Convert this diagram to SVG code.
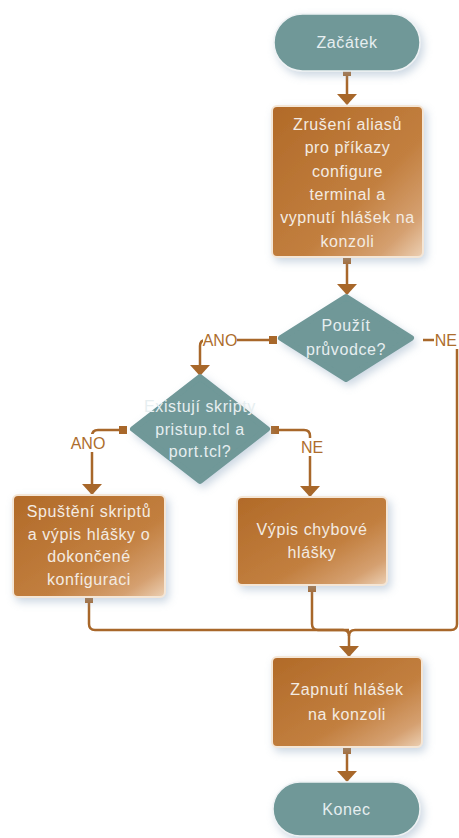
<svg xmlns="http://www.w3.org/2000/svg" width="459" height="838" viewBox="0 0 459 838">
  <defs>
    <linearGradient id="boxFill" x1="0" y1="0" x2="1" y2="1">
      <stop offset="0" stop-color="#b16a28"/>
      <stop offset="0.6" stop-color="#c27f3f"/>
      <stop offset="0.85" stop-color="#d5a070"/>
      <stop offset="1" stop-color="#ecd0b4"/>
    </linearGradient>
    <filter id="shadow" x="-20%" y="-20%" width="150%" height="150%">
      <feDropShadow dx="3" dy="4" stdDeviation="4" flood-color="#8ea6c0" flood-opacity="0.45"/>
    </filter>
    <!-- arrowhead drawn along +x so orient="auto" turns it with the line -->
    <marker id="arrow" viewBox="0 0 11 20" refX="10" refY="10" markerWidth="11" markerHeight="20" markerUnits="userSpaceOnUse" orient="auto">
      <path d="M0 0 L11 10 L0 20 Z" fill="#a8672a"/>
    </marker>
    <marker id="dot" viewBox="0 0 10 10" refX="5" refY="5" markerWidth="8" markerHeight="8" markerUnits="userSpaceOnUse">
      <rect x="0" y="0" width="10" height="10" fill="#a8672a"/>
    </marker>
  </defs>
  <style>
    .term { fill: #6f9898; stroke: #eef2f4; stroke-width: 1.5; filter: url(#shadow); }
    .dec { fill: #6f9898; stroke: #6f9898; stroke-width: 6; stroke-linejoin: round; filter: url(#shadow); }
    .proc { fill: url(#boxFill); stroke: #f4e6d6; stroke-width: 2; filter: url(#shadow); }
    .lbl { font-family: "Liberation Sans", Arial, sans-serif; font-size: 16px; letter-spacing: 0.6px; fill: #f3ebe2; text-anchor: middle; }
    .dlbl { font-family: "Liberation Sans", Arial, sans-serif; font-size: 16px; letter-spacing: 0.6px; fill: #e6eef0; text-anchor: middle; }
    .edge { fill: none; stroke: #a8672a; stroke-width: 2.5; }
    .elbl { font-family: "Liberation Sans", Arial, sans-serif; font-size: 16px; fill: #ad6d2d; text-anchor: middle; }
    .elbg { fill: #ffffff; }
  </style>

  <rect width="459" height="838" fill="#ffffff"/>

  <!-- connectors -->
  <g id="connectors">
    <path class="edge" d="M347 72 V104" marker-start="url(#dot)" marker-end="url(#arrow)"/>
    <path class="edge" d="M347 260 V294" marker-start="url(#dot)" marker-end="url(#arrow)"/>
    <path class="edge" d="M273 340 H206 Q200 340 200 346 V375" marker-start="url(#dot)" marker-end="url(#arrow)"/>
    <path class="edge" d="M423 340 H451 Q457 340 457 346 V624 Q457 630 451 630 H355 Q349 630 349 636"/>
    <path class="edge" d="M123 430 H98 Q92 430 92 436 V494" marker-start="url(#dot)" marker-end="url(#arrow)"/>
    <path class="edge" d="M275 430 H304 Q310 430 310 436 V496" marker-start="url(#dot)" marker-end="url(#arrow)"/>
    <path class="edge" d="M89 599 V624 Q89 630 95 630 H343 Q349 630 349 636 V656" marker-start="url(#dot)" marker-end="url(#arrow)"/>
    <path class="edge" d="M312 588 V624 Q312 630 318 630 H349" marker-start="url(#dot)"/>
    <path class="edge" d="M347 750 V781" marker-start="url(#dot)" marker-end="url(#arrow)"/>
    <rect class="elbg" x="203" y="331" width="34" height="18"/>
    <text class="elbl" x="220" y="346">ANO</text>
    <rect class="elbg" x="434" y="331" width="25" height="18"/>
    <text class="elbl" x="457" y="346" style="text-anchor:end">NE</text>
    <rect class="elbg" x="71" y="434" width="35" height="18"/>
    <text class="elbl" x="88" y="449">ANO</text>
    <rect class="elbg" x="300" y="438" width="24" height="18"/>
    <text class="elbl" x="312" y="453">NE</text>
  </g>

  <g id="start">
    <rect class="term" x="274" y="14" width="146" height="57" rx="28.5"/>
    <text class="dlbl" x="347" y="48">Začátek</text>
  </g>

  <g id="disable-aliases">
    <rect class="proc" x="272" y="106" width="151" height="151" rx="5"/>
    <text class="lbl" x="347.5" y="130">Zrušení aliasů</text>
    <text class="lbl" x="347.5" y="153">pro příkazy</text>
    <text class="lbl" x="347.5" y="177">configure</text>
    <text class="lbl" x="347.5" y="200">terminal a</text>
    <text class="lbl" x="347.5" y="223">vypnutí hlášek na</text>
    <text class="lbl" x="347.5" y="247">konzoli</text>
  </g>

  <g id="use-wizard">
    <polygon class="dec" points="346,297 411,338 346,379 281,338"/>
    <text class="dlbl" x="346" y="331">Použít</text>
    <text class="dlbl" x="346" y="355">průvodce?</text>
  </g>

  <g id="scripts-exist">
    <polygon class="dec" points="200,377 267,429 200,481 133,429"/>
    <text class="dlbl" x="200" y="412">Existují skripty</text>
    <text class="dlbl" x="200" y="435">pristup.tcl a</text>
    <text class="dlbl" x="200" y="457">port.tcl?</text>
  </g>

  <g id="run-scripts">
    <rect class="proc" x="13" y="495" width="152" height="102" rx="5"/>
    <text class="lbl" x="89" y="517">Spuštění skriptů</text>
    <text class="lbl" x="89" y="540">a výpis hlášky o</text>
    <text class="lbl" x="89" y="562">dokončené</text>
    <text class="lbl" x="89" y="585">konfiguraci</text>
  </g>

  <g id="error-message">
    <rect class="proc" x="237" y="497" width="150" height="88" rx="5"/>
    <text class="lbl" x="312" y="535">Výpis chybové</text>
    <text class="lbl" x="312" y="558">hlášky</text>
  </g>

  <g id="enable-messages">
    <rect class="proc" x="272" y="657" width="150" height="90" rx="5"/>
    <text class="lbl" x="347" y="695">Zapnutí hlášek</text>
    <text class="lbl" x="347" y="720">na konzoli</text>
  </g>

  <g id="end">
    <rect class="term" x="273" y="782" width="147" height="54" rx="27"/>
    <text class="dlbl" x="346.5" y="815">Konec</text>
  </g>
</svg>
